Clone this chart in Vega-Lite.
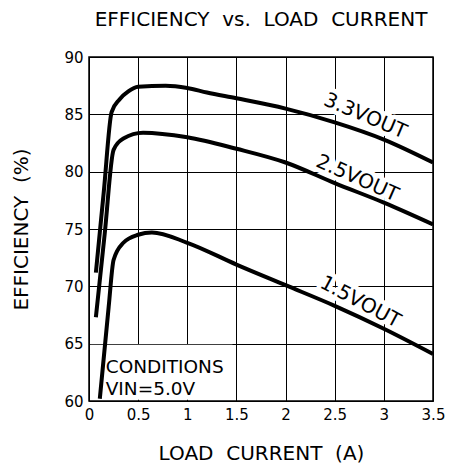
{
  "$schema": "https://vega.github.io/schema/vega-lite/v6.json",
  "width": 344,
  "height": 344,
  "autosize": "none",
  "padding": {"left": 89, "top": 57, "right": 16, "bottom": 69},
  "background": "white",
  "title": {
    "text": "EFFICIENCY\u00a0\u00a0vs.\u00a0\u00a0LOAD\u00a0\u00a0CURRENT",
    "font": "DejaVu Sans",
    "fontSize": 20,
    "fontWeight": "normal",
    "color": "black",
    "anchor": "middle",
    "offset": 20
  },
  "config": {
    "view": {"stroke": "black", "strokeWidth": 1.5},
    "axis": {
      "grid": true,
      "gridColor": "black",
      "gridOpacity": 1,
      "gridWidth": 1,
      "ticks": false,
      "domain": false,
      "labelFont": "DejaVu Sans",
      "labelFontSize": 15,
      "labelColor": "black",
      "titleFont": "DejaVu Sans",
      "titleFontSize": 20,
      "titleFontWeight": "normal",
      "titleColor": "black"
    }
  },
  "datasets": {
    "curves": [
      {"series": "3.3VOUT", "current": 0.07, "eff": 71.2},
      {"series": "3.3VOUT", "current": 0.15, "eff": 78.2},
      {"series": "3.3VOUT", "current": 0.23, "eff": 85.2},
      {"series": "3.3VOUT", "current": 0.31, "eff": 86.3},
      {"series": "3.3VOUT", "current": 0.4, "eff": 87.0},
      {"series": "3.3VOUT", "current": 0.5, "eff": 87.4},
      {"series": "3.3VOUT", "current": 0.78, "eff": 87.5},
      {"series": "3.3VOUT", "current": 1.0, "eff": 87.3},
      {"series": "3.3VOUT", "current": 1.2, "eff": 86.9},
      {"series": "3.3VOUT", "current": 1.5, "eff": 86.4},
      {"series": "3.3VOUT", "current": 2.0, "eff": 85.5},
      {"series": "3.3VOUT", "current": 2.5, "eff": 84.3},
      {"series": "3.3VOUT", "current": 3.0, "eff": 82.8},
      {"series": "3.3VOUT", "current": 3.5, "eff": 80.8},
      {"series": "2.5VOUT", "current": 0.07, "eff": 67.3},
      {"series": "2.5VOUT", "current": 0.16, "eff": 74.6},
      {"series": "2.5VOUT", "current": 0.25, "eff": 81.9},
      {"series": "2.5VOUT", "current": 0.35, "eff": 82.9},
      {"series": "2.5VOUT", "current": 0.55, "eff": 83.4},
      {"series": "2.5VOUT", "current": 1.0, "eff": 83.0},
      {"series": "2.5VOUT", "current": 1.5, "eff": 82.0},
      {"series": "2.5VOUT", "current": 2.0, "eff": 80.8},
      {"series": "2.5VOUT", "current": 2.5, "eff": 79.0},
      {"series": "2.5VOUT", "current": 3.0, "eff": 77.3},
      {"series": "2.5VOUT", "current": 3.5, "eff": 75.4},
      {"series": "1.5VOUT", "current": 0.11, "eff": 60.2},
      {"series": "1.5VOUT", "current": 0.2, "eff": 68.2},
      {"series": "1.5VOUT", "current": 0.25, "eff": 72.3},
      {"series": "1.5VOUT", "current": 0.35, "eff": 73.8},
      {"series": "1.5VOUT", "current": 0.5, "eff": 74.5},
      {"series": "1.5VOUT", "current": 0.64, "eff": 74.7},
      {"series": "1.5VOUT", "current": 1.0, "eff": 73.8},
      {"series": "1.5VOUT", "current": 1.5, "eff": 71.9},
      {"series": "1.5VOUT", "current": 2.0, "eff": 70.1},
      {"series": "1.5VOUT", "current": 2.5, "eff": 68.3},
      {"series": "1.5VOUT", "current": 3.0, "eff": 66.3},
      {"series": "1.5VOUT", "current": 3.5, "eff": 64.1}
    ],
    "labels": [
      {"label": "3.3VOUT", "current": 2.81, "eff": 84.85},
      {"label": "2.5VOUT", "current": 2.73, "eff": 79.42},
      {"label": "1.5VOUT", "current": 2.76, "eff": 68.62}
    ],
    "notes": [
      {"text": "CONDITIONS\nVIN=5.0V", "current": 0.17, "eff": 62.4}
    ],
    "notebox": [
      {"x0": 0.012, "x1": 1.46, "y0": 60.1, "y1": 64.9}
    ]
  },
  "layer": [
    {
      "data": {"name": "notebox"},
      "mark": {"type": "rect", "color": "white"},
      "encoding": {
        "x": {"field": "x0", "type": "quantitative"},
        "x2": {"field": "x1"},
        "y": {"field": "y0", "type": "quantitative"},
        "y2": {"field": "y1"}
      }
    },
    {
      "data": {"name": "labels"},
      "transform": [{"filter": "datum.label === '3.3VOUT'"}],
      "mark": {"type": "text", "angle": 23, "font": "DejaVu Sans", "fontSize": 20, "fill": "white", "stroke": "white", "strokeWidth": 9, "strokeJoin": "round", "align": "center", "baseline": "middle"},
      "encoding": {
        "x": {"field": "current", "type": "quantitative"},
        "y": {"field": "eff", "type": "quantitative"},
        "text": {"field": "label"}
      }
    },
    {
      "data": {"name": "labels"},
      "transform": [{"filter": "datum.label === '2.5VOUT'"}],
      "mark": {"type": "text", "angle": 24, "font": "DejaVu Sans", "fontSize": 20, "fill": "white", "stroke": "white", "strokeWidth": 9, "strokeJoin": "round", "align": "center", "baseline": "middle"},
      "encoding": {
        "x": {"field": "current", "type": "quantitative"},
        "y": {"field": "eff", "type": "quantitative"},
        "text": {"field": "label"}
      }
    },
    {
      "data": {"name": "labels"},
      "transform": [{"filter": "datum.label === '1.5VOUT'"}],
      "mark": {"type": "text", "angle": 28, "font": "DejaVu Sans", "fontSize": 20, "fill": "white", "stroke": "white", "strokeWidth": 9, "strokeJoin": "round", "align": "center", "baseline": "middle"},
      "encoding": {
        "x": {"field": "current", "type": "quantitative"},
        "y": {"field": "eff", "type": "quantitative"},
        "text": {"field": "label"}
      }
    },
    {
      "data": {"name": "curves"},
      "mark": {"type": "line", "color": "black", "strokeWidth": 4, "interpolate": "monotone", "clip": true},
      "encoding": {
        "x": {
          "field": "current", "type": "quantitative",
          "scale": {"domain": [0, 3.5], "nice": false, "zero": false},
          "axis": {"values": [0, 0.5, 1, 1.5, 2, 2.5, 3, 3.5], "format": "~g", "title": "LOAD\u00a0\u00a0CURRENT\u00a0\u00a0(A)", "labelPadding": 6, "titlePadding": 21, "labelFlush": false}
        },
        "y": {
          "field": "eff", "type": "quantitative",
          "scale": {"domain": [60, 90], "nice": false, "zero": false},
          "axis": {"values": [60, 65, 70, 75, 80, 85, 90], "format": "~g", "title": "EFFICIENCY\u00a0\u00a0(%)", "labelPadding": 6, "titlePadding": 32, "labelFlush": false}
        },
        "detail": {"field": "series"}
      }
    },
    {
      "data": {"name": "labels"},
      "transform": [{"filter": "datum.label === '3.3VOUT'"}],
      "mark": {"type": "text", "angle": 23, "font": "DejaVu Sans", "fontSize": 20, "color": "black", "align": "center", "baseline": "middle"},
      "encoding": {
        "x": {"field": "current", "type": "quantitative"},
        "y": {"field": "eff", "type": "quantitative"},
        "text": {"field": "label"}
      }
    },
    {
      "data": {"name": "labels"},
      "transform": [{"filter": "datum.label === '2.5VOUT'"}],
      "mark": {"type": "text", "angle": 24, "font": "DejaVu Sans", "fontSize": 20, "color": "black", "align": "center", "baseline": "middle"},
      "encoding": {
        "x": {"field": "current", "type": "quantitative"},
        "y": {"field": "eff", "type": "quantitative"},
        "text": {"field": "label"}
      }
    },
    {
      "data": {"name": "labels"},
      "transform": [{"filter": "datum.label === '1.5VOUT'"}],
      "mark": {"type": "text", "angle": 28, "font": "DejaVu Sans", "fontSize": 20, "color": "black", "align": "center", "baseline": "middle"},
      "encoding": {
        "x": {"field": "current", "type": "quantitative"},
        "y": {"field": "eff", "type": "quantitative"},
        "text": {"field": "label"}
      }
    },
    {
      "data": {"name": "notes"},
      "mark": {"type": "text", "font": "DejaVu Sans", "fontSize": 18.5, "color": "black", "align": "left", "baseline": "alphabetic", "lineBreak": "\n", "lineHeight": 22},
      "encoding": {
        "x": {"field": "current", "type": "quantitative"},
        "y": {"field": "eff", "type": "quantitative"},
        "text": {"field": "text"}
      }
    }
  ]
}
